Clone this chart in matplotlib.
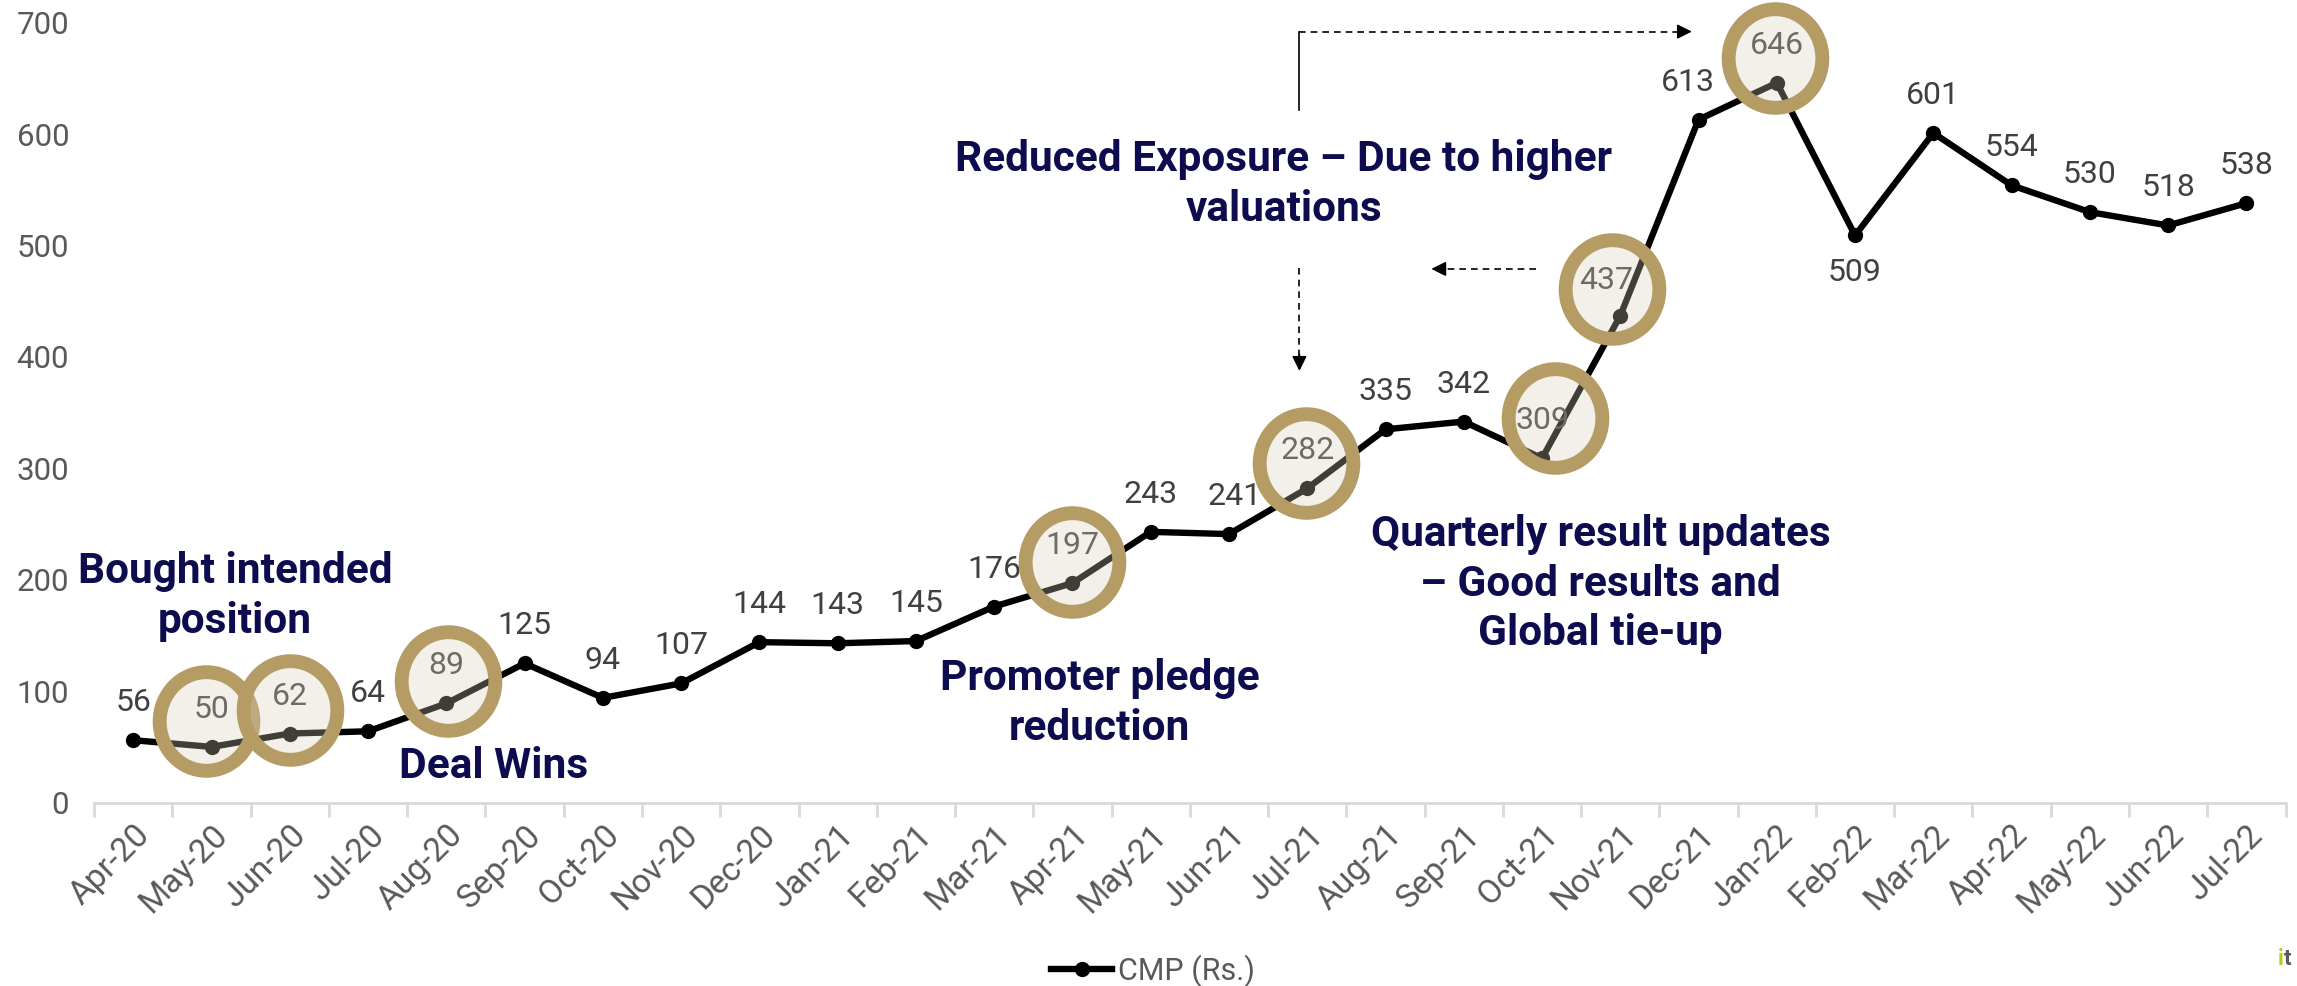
import matplotlib
matplotlib.use('Agg')
import matplotlib.pyplot as plt
import numpy as np
from matplotlib import transforms
from matplotlib.path import Path
from matplotlib.lines import Line2D

# ---------------- data ----------------
months = ['Apr-20', 'May-20', 'Jun-20', 'Jul-20', 'Aug-20', 'Sep-20', 'Oct-20', 'Nov-20',
          'Dec-20', 'Jan-21', 'Feb-21', 'Mar-21', 'Apr-21', 'May-21', 'Jun-21', 'Jul-21',
          'Aug-21', 'Sep-21', 'Oct-21', 'Nov-21', 'Dec-21', 'Jan-22', 'Feb-22', 'Mar-22',
          'Apr-22', 'May-22', 'Jun-22', 'Jul-22']
cmp_values = [56, 50, 62, 64, 89, 125, 94, 107, 144, 143, 145, 176, 197, 243, 241, 282,
              335, 342, 309, 437, 613, 646, 509, 601, 554, 530, 518, 538]
highlight_months = ['May-20', 'Jun-20', 'Aug-20', 'Apr-21', 'Jul-21', 'Oct-21', 'Nov-21', 'Jan-22']
series_name = 'CMP (Rs.)'
y_ticks = [0, 100, 200, 300, 400, 500, 600, 700]

notes = ['Bought intended\nposition', 'Deal Wins', 'Promoter pledge\nreduction',
         'Reduced Exposure \u2013 Due to higher\nvaluations',
         'Quarterly result updates\n\u2013 Good results and\nGlobal tie-up']

# ---------------- layout / style ----------------
plt.rcParams['font.family'] = ['Roboto', 'DejaVu Sans']
NAVY = '#0C0C4E'
GOLD = '#B49C64'
GRAY = '#595959'
LABEL = '#404040'

# label offsets in points (dx, dy)
label_off = {m: (0, 27) for m in months}
label_off['Feb-22'] = (0, -27)
label_off['Dec-21'] = (-8, 27)
label_off['Nov-21'] = (-10, 25)
label_off['Jun-21'] = (4, 27)

# circle offsets in points (dx, dy)
circle_off = {'May-20': (-4, 19), 'Jun-20': (0, 17), 'Aug-20': (1, 16), 'Apr-21': (0, 15),
              'Jul-21': (-1, 18), 'Oct-21': (9, 29), 'Nov-21': (-6, 19), 'Jan-22': (-1, 18)}

fig = plt.figure(figsize=(22.97, 9.86), dpi=100)
ax = fig.add_axes([0.041, 0.186, 0.954, 0.791])

x = np.arange(len(months))
ax.plot(x, cmp_values, color='black', lw=4.6, marker='o', ms=11, mew=0, zorder=2,
        solid_joinstyle='round')

ax.set_xlim(-0.5, len(months) - 0.5)
ax.set_ylim(0, 700)
ax.set_yticks(y_ticks)
ax.set_yticklabels([str(v) for v in y_ticks])
ax.set_xticks(x)
ax.set_xticklabels(months, rotation=45, ha='right', va='center', rotation_mode='anchor')
ax.set_xticks(np.arange(-0.5, len(months)), minor=True)
ax.tick_params(axis='x', which='major', length=0, pad=20, labelsize=24, labelcolor=GRAY)
ax.tick_params(axis='x', which='minor', length=10, width=2, color='#D9D9D9')
ax.tick_params(axis='y', length=0, pad=18, labelsize=22.5, labelcolor=GRAY)
shift = transforms.ScaledTranslation(8 / 72, 0, fig.dpi_scale_trans)
for lab in ax.get_xticklabels():
    lab.set_transform(lab.get_transform() + shift)
for s in ['top', 'right', 'left']:
    ax.spines[s].set_visible(False)
ax.spines['bottom'].set_color('#D9D9D9')
ax.spines['bottom'].set_linewidth(2)

# data labels
for i, (m, v) in enumerate(zip(months, cmp_values)):
    dx, dy = label_off[m]
    ax.annotate(str(v), (i, v), xytext=(dx, dy), textcoords='offset points',
                ha='center', va='center', fontsize=23, color=LABEL, zorder=3)

# highlight circles
circ = Path.unit_circle().transformed(transforms.Affine2D().scale(0.95, 1.0))
for m in highlight_months:
    i = months.index(m)
    dx, dy = circle_off[m]
    tr = transforms.offset_copy(ax.transData, fig=fig, x=dx, y=dy, units='points')
    ax.plot([i], [cmp_values[i]], transform=tr, marker=circ, ms=71, ls='none',
            mfc=(0.85, 0.80, 0.72, 0.3), mec=GOLD, mew=10, zorder=4, clip_on=False)

# annotation texts
note_pos = [(1.3, 185), (4.6, 32), (12.35, 89), (14.7, 555), (18.75, 196)]
for t, (px, py) in zip(notes, note_pos):
    ax.text(px, py, t, ha='center', va='center', fontsize=30.5, fontweight='bold',
            color=NAVY, linespacing=1.27, zorder=5)

# arrows
ax_x = 14.9
ax.plot([ax_x, ax_x], [622, 692], color='black', lw=1.2, zorder=5)
ax.plot([ax_x, 19.75], [692, 692], color='black', lw=1.2, ls=(0, (4, 3)), zorder=5)
ax.annotate('', xy=(19.95, 692), xytext=(19.7, 692),
            arrowprops=dict(arrowstyle='-|>', color='black', lw=1.2, mutation_scale=22))
ax.plot([ax_x, ax_x], [480, 400], color='black', lw=1.2, ls=(0, (4, 3)), zorder=5)
ax.annotate('', xy=(ax_x, 385), xytext=(ax_x, 405),
            arrowprops=dict(arrowstyle='-|>', color='black', lw=1.2, mutation_scale=22))
ax.plot([17.92, 16.75], [479, 479], color='black', lw=1.2, ls=(0, (4, 3)), zorder=5)
ax.annotate('', xy=(16.55, 479), xytext=(16.8, 479),
            arrowprops=dict(arrowstyle='-|>', color='black', lw=1.2, mutation_scale=22))

# legend
h = Line2D([], [], color='black', lw=4.6, marker='o', ms=11, mew=0)
fig.legend([h], [series_name], loc='center', bbox_to_anchor=(0.502, 0.016), frameon=False,
           fontsize=22, labelcolor=GRAY, handlelength=2.0, handletextpad=0.2)

# logo fragment at bottom-right
fig.text(0.9915, 0.027, 'i', color='#B5CC18', fontsize=16, fontweight='bold', ha='left', va='center')
fig.text(0.9942, 0.027, 't', color=GRAY, fontsize=16, fontweight='bold', ha='left', va='center')

fig.savefig('out.png', dpi=100)
